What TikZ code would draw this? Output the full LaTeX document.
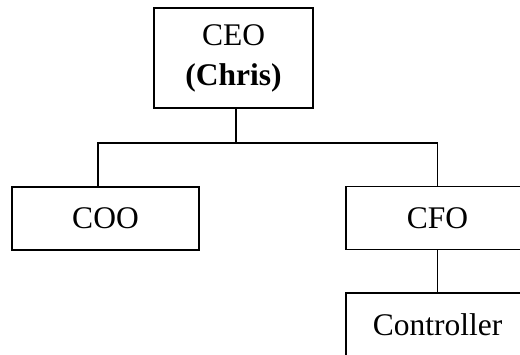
\documentclass[tikz,border=0pt]{standalone}
\usepackage{fontspec}
\setmainfont{Liberation Serif}
\usepackage{tikz}
\usetikzlibrary{positioning}
\tikzset{
  caixa/.style={rectangle,draw=black,line width=1.5pt,fill=white,inner sep=0pt,
    align=center,font=\fontsize{31.5}{40}\selectfont},
  liga/.style={line width=1.5pt,black}
}
\begin{document}
\begin{tikzpicture}[x=1pt,y=1pt]
  \useasboundingbox (0,0) rectangle (520,354);
  \clip (0,0) rectangle (520,354);
  % caixas
  \node[caixa,minimum width=159pt,minimum height=100pt] (ceo) at (233.5,296)
    {CEO\\\textbf{(Chris)}};
  \node[caixa,minimum width=187pt,minimum height=63pt] (coo) at (105.5,135.5) {COO};
  \node[caixa,minimum width=183pt,minimum height=63pt] (cfo) at (437.5,136) {CFO};
  \node[caixa,minimum width=183pt,minimum height=63pt] (ctrl) at (437.5,29.5) {Controller};
  % ligacoes
  \coordinate (barra) at (0,211);
  \draw[liga] ([xshift=2.5pt]ceo.south) -- ([xshift=2.5pt]ceo.south |- barra)
    -| ([xshift=-7.5pt]coo.north);
  \draw[liga] ([xshift=2.5pt]ceo.south |- barra) -| (cfo.north);
  \draw[liga] (cfo.south) -- (ctrl.north);
\end{tikzpicture}
\end{document}
